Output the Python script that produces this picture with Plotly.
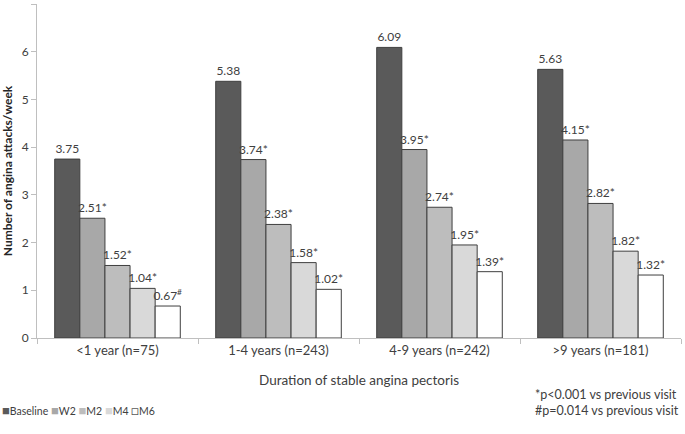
import plotly.graph_objects as go

categories = ["<1 year (n=75)", "1-4 years (n=243)", "4-9 years (n=242)", ">9 years (n=181)"]
series_names = ["Baseline", "W2", "M2", "M4", "M6"]
baseline = [3.75, 5.38, 6.09, 5.63]
w2 = [2.51, 3.74, 3.95, 4.15]
m2 = [1.52, 2.38, 2.74, 2.82]
m4 = [1.04, 1.58, 1.95, 1.82]
m6 = [0.67, 1.02, 1.39, 1.32]
labels = {
    "Baseline": ["3.75", "5.38", "6.09", "5.63"],
    "W2": ["2.51*", "3.74*", "3.95*", "4.15*"],
    "M2": ["1.52*", "2.38*", "2.74*", "2.82*"],
    "M4": ["1.04*", "1.58*", "1.95*", "1.82*"],
    "M6": ["0.67<sup>#</sup>", "1.02*", "1.39*", "1.32*"],
}
values = {"Baseline": baseline, "W2": w2, "M2": m2, "M4": m4, "M6": m6}
colors = {"Baseline": "#5a5a5a", "W2": "#a8a8a8", "M2": "#bdbdbd", "M4": "#d9d9d9", "M6": "#ffffff"}

FONT = "Lato, 'Open Sans', sans-serif"
TXT = "#404040"

fig = go.Figure()
for name in series_names:
    fig.add_trace(go.Bar(
        name=name, x=categories, y=values[name],
        text=labels[name], textposition="outside", cliponaxis=False,
        constraintext="none",
        textfont=dict(size=12, color=TXT, family=FONT),
        marker=dict(color=colors[name], line=dict(color="#3f3f3f", width=1)),
        showlegend=False,
    ))

fig.update_layout(
    width=685, height=434,
    margin=dict(l=37, r=4, t=4, b=96, autoexpand=False),
    barmode="group", bargap=0.22, bargroupgap=0,
    plot_bgcolor="white", paper_bgcolor="white",
    font=dict(family=FONT, size=12, color=TXT),
    showlegend=False,
    xaxis=dict(
        automargin=False,
        showline=True, linecolor="#bfbfbf", linewidth=1,
        ticks="outside", tickson="boundaries", ticklen=5, tickcolor="#bfbfbf",
        tickfont=dict(size=13, color=TXT),
        title=dict(text="Duration of stable angina pectoris", font=dict(size=13.5, color=TXT), standoff=18),
    ),
    yaxis=dict(
        automargin=False,
        range=[0, 7], dtick=1, showgrid=False, zeroline=False,
        showline=True, linecolor="#bfbfbf", linewidth=1,
        ticks="outside", ticklen=5, tickcolor="#bfbfbf",
        tickfont=dict(size=12, color=TXT),
        title=dict(text="<b>Number of angina attacks/week</b>", font=dict(size=12, color="#262626"), standoff=6),
    ),
)

# legend drawn as text with coloured squares
legend_parts = []
for name in series_names:
    if name == "M6":
        legend_parts.append(f"<span style='color:#595959;font-size:13px'>□</span>{name}")
    else:
        legend_parts.append(f"<span style='color:{colors[name]};font-size:13px'>■</span>{name}")
fig.add_annotation(
    text=" ".join(legend_parts),
    xref="paper", yref="paper", x=-37 / 644, y=-72 / 334, xanchor="left", yanchor="middle",
    showarrow=False, align="left", font=dict(size=10.5, color=TXT),
)

fig.add_annotation(
    text="*p&lt;0.001 vs previous visit<br>#p=0.014 vs previous visit",
    xref="paper", yref="paper", x=1.0, y=-0.14, xanchor="right", yanchor="top",
    showarrow=False, align="left", font=dict(size=12.5, color=TXT),
)

fig.write_html("out.html", config={"displayModeBar": False},
               post_script="document.body.style.margin='0px';")
